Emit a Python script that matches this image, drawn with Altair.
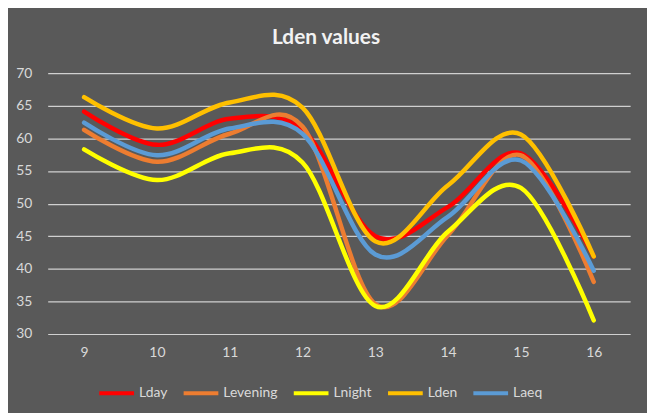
import altair as alt
import pandas as pd

x_vals = [9, 10, 11, 12, 13, 14, 15, 16]
series_names = ["Lday", "Levening", "Lnight", "Lden", "Laeq"]
lday = [64.1, 59.0, 63.0, 61.3, 45.0, 49.5, 57.7, 41.9]
levening = [61.3, 56.4, 60.7, 61.8, 34.6, 45.2, 57.4, 38.0]
lnight = [58.3, 53.6, 57.7, 56.3, 34.3, 45.7, 52.4, 32.1]
lden = [66.3, 61.5, 65.5, 64.7, 44.2, 52.8, 60.6, 41.9]
laeq = [62.4, 57.4, 61.5, 60.7, 42.2, 48.0, 56.6, 39.7]
colors = ["#FF0000", "#ED7D31", "#FFFF00", "#FFC000", "#5B9BD5"]

rows = []
for name, vals in zip(series_names, [lday, levening, lnight, lden, laeq]):
    for i, (x, v) in enumerate(zip(x_vals, vals)):
        rows.append({"x": x, "value": v, "series": name})
df = pd.DataFrame(rows)

chart = alt.Chart(df).mark_line(
    interpolate="cardinal", strokeWidth=4.5, strokeCap="round"
).encode(
    x=alt.X("x:Q", scale=alt.Scale(domain=[8.5, 16.5], nice=False, zero=False),
            axis=alt.Axis(values=x_vals, title=None, grid=False, domain=False,
                          ticks=False, labelPadding=12, labelFontSize=14,
                          labelColor="#D9D9D9", labelFont="Lato", format="d")),
    y=alt.Y("value:Q", scale=alt.Scale(domain=[30, 70], nice=False, zero=False),
            axis=alt.Axis(values=[30, 35, 40, 45, 50, 55, 60, 65, 70], title=None,
                          grid=True, gridColor="#D0D0D0", gridWidth=1.2,
                          domain=False, ticks=False, labelPadding=16,
                          labelFontSize=14, labelColor="#D9D9D9", labelFont="Lato")),
    color=alt.Color("series:N",
                    scale=alt.Scale(domain=series_names, range=colors),
                    legend=alt.Legend(title=None, orient="none", direction="horizontal",
                                      legendX=50, legendY=303,
                                      symbolType="stroke", symbolSize=1225,
                                      symbolStrokeWidth=4, labelFontSize=14,
                                      labelColor="#D9D9D9", labelFont="Lato",
                                      labelOffset=3, columnPadding=8, padding=0)),
    order=alt.Order("x:Q"),
).properties(
    width=587, height=263,
    title=alt.TitleParams("Lden values", font="Lato", fontSize=21, fontWeight="bold",
                          color="#F2F2F2", anchor="middle", dx=-13, offset=18),
    padding={"left": 40, "top": 64, "right": 17, "bottom": 78},
    autosize=alt.AutoSizeParams(type="none"),
    background="#595959",
).configure_view(stroke=None)

chart.save("out.html", embed_options={"renderer": "svg", "actions": False})
